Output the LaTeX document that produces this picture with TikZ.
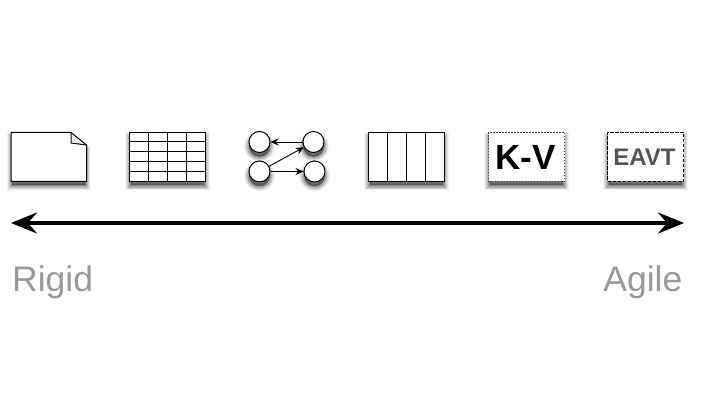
\documentclass[tikz,border=0pt]{standalone}
\usepackage{fontspec}
\setmainfont{Liberation Sans}
\usetikzlibrary{arrows.meta,shadows}

\definecolor{labelgray}{HTML}{999999}
\definecolor{eavtgray}{HTML}{555555}
\definecolor{dotgray}{HTML}{444444}

\tikzset{
  shadowlayer/.style n args={2}{
    general shadow={solid,shadow yshift=-4.5pt,shadow scale=.97,fill=black,draw=black,line width=#1,fill opacity=#2,draw opacity=#2}},
  softshadow/.style={
    shadowlayer={11pt}{.05},shadowlayer={9pt}{.07},shadowlayer={7pt}{.09},
    shadowlayer={5pt}{.11},shadowlayer={3pt}{.12},shadowlayer={1pt}{.12},
  },
  panel/.style={draw,fill=white,line width=1pt,minimum width=76pt,minimum height=49pt,inner sep=0pt,softshadow},
  ball/.style={circle,draw,fill=white,line width=1pt,minimum size=21pt,inner sep=0pt,softshadow},
  link/.style={line width=.9pt,-{Stealth[length=8pt,width=7pt]}},
  scale label/.style={text=labelgray,font=\fontsize{35.5}{35.5}\selectfont,inner sep=0pt},
}

\begin{document}
\begin{tikzpicture}[x=1pt,y=-1pt]
\useasboundingbox (0,0) rectangle (710,401);

% document
\coordinate (P1) at (11,132.5);
\coordinate (P2) at (71,132.5);
\coordinate (P3) at (86.5,145);
\coordinate (P4) at (86.5,181.5);
\coordinate (P5) at (11,181.5);
\coordinate (P6) at (71,143);
\draw[fill=white,line width=1pt,softshadow] (P1) -- (P2) -- (P3) -- (P4) -- (P5) -- cycle;
\draw[line width=1pt] (P2) -- (P6) -- (P3);

% table
\node[panel] (tablebox) at (167.5,157) {};
\foreach \yy in {141.7,151.7,161.7,171.7}
  \draw[line width=1pt] (129.5,\yy) -- (205.5,\yy);
\foreach \xx in {148.5,167.5,186.5}
  \draw[line width=1pt] (\xx,132.5) -- (\xx,181.5);

% graph
\node[ball] (topleft) at (259.5,142) {};
\node[ball] (topright) at (313.5,142) {};
\node[ball] (lowleft) at (259.5,171.5) {};
\node[ball] (lowright) at (314.5,171.5) {};
\draw[link] (topright) -- (topleft);
\draw[link] (lowleft) -- (topright);
\draw[link] (lowleft) -- (lowright);

% columns
\node[panel] (columnbox) at (406.5,157) {};
\foreach \xx in {387.5,406.5,425.5}
  \draw[line width=1pt] (\xx,132.5) -- (\xx,181.5);

% key value
\node[panel,draw=dotgray,dash pattern=on 1.5pt off 1.5pt,font=\bfseries\fontsize{35}{35}\selectfont] (kvbox) at (526.5,157) {\hspace*{-2pt}K-V};

% eavt
\node[panel,dash pattern=on 3.5pt off 1.5pt,text=eavtgray,font=\bfseries\fontsize{24}{24}\selectfont] (eavtbox) at (645.5,157) {\hspace*{-2pt}EAVT};

% scale
\coordinate (L) at (11,223);
\coordinate (R) at (684,223);
\draw[line width=3.6pt,{Stealth[length=26pt,width=21pt,inset=9pt]}-{Stealth[length=26pt,width=21pt,inset=9pt]}] (L) -- (R);

\node[scale label,anchor=base west] (rigid) at (12,291) {Rigid};
\node[scale label,anchor=base east] (agile) at (682.5,291) {Agile};
\end{tikzpicture}
\end{document}
